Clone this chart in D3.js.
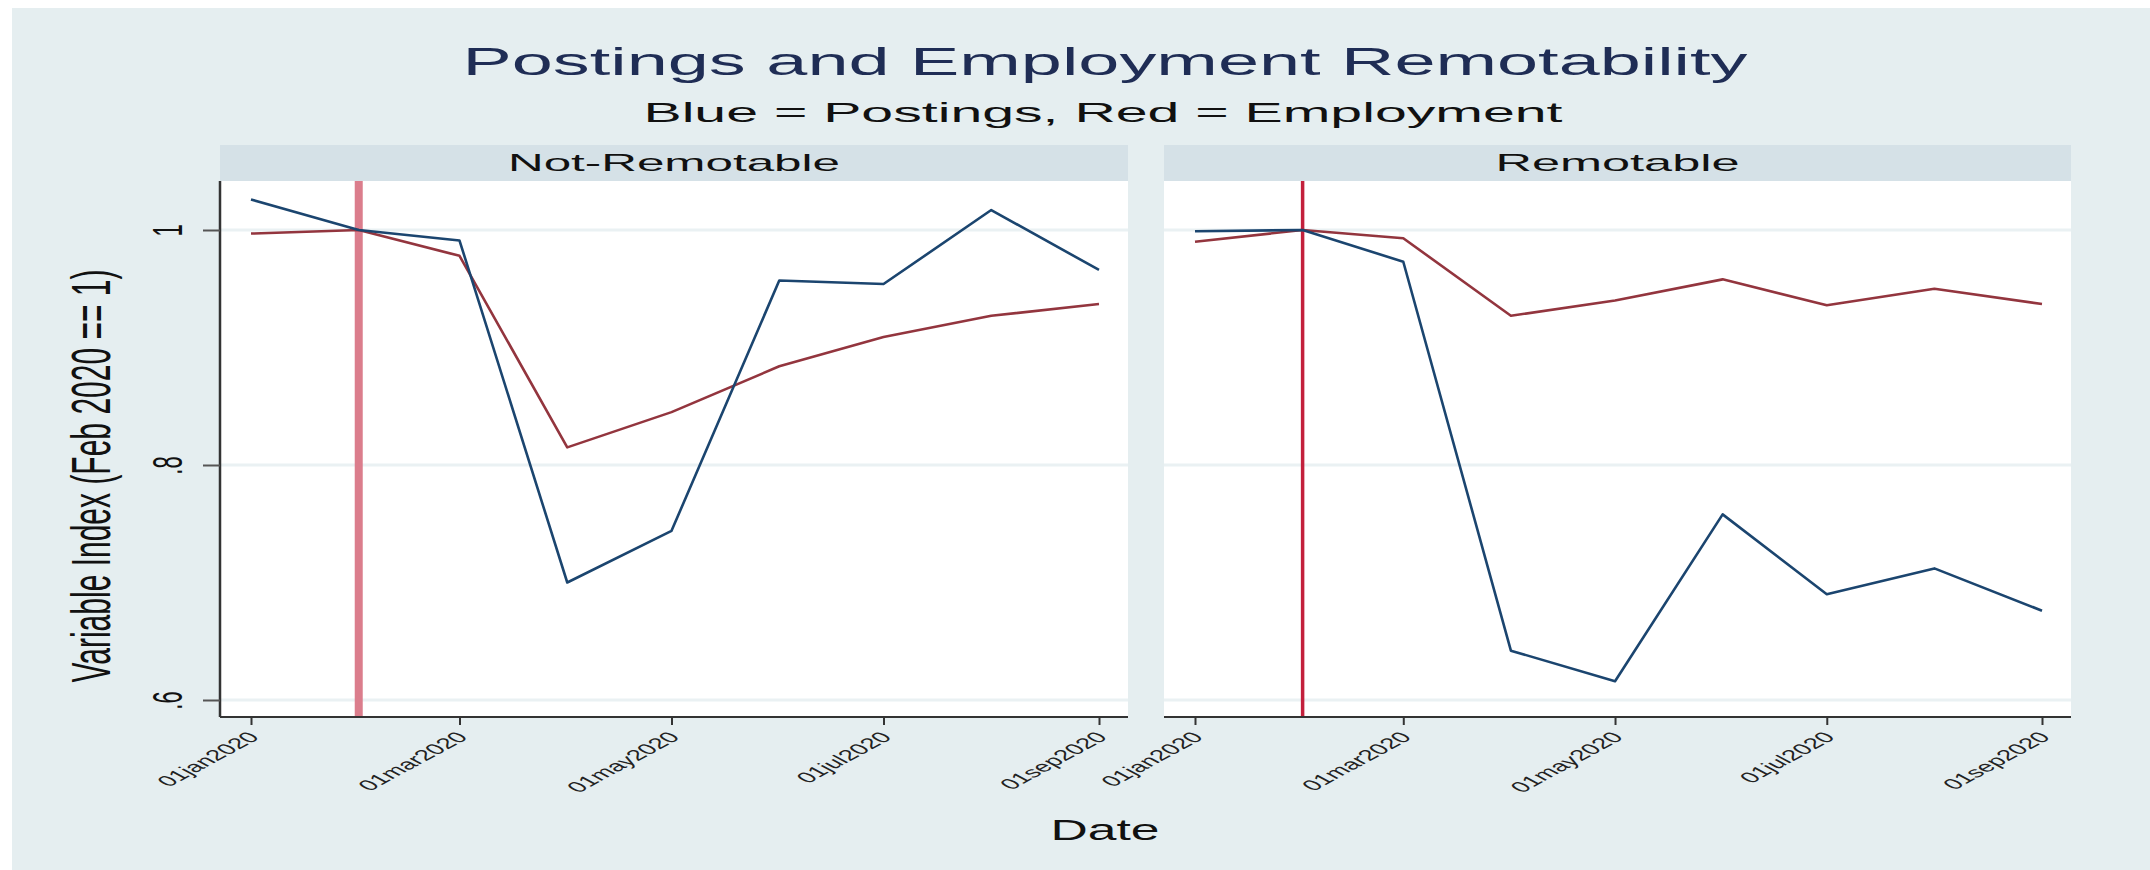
<!DOCTYPE html>
<html>
<head>
<meta charset="utf-8">
<script src="https://cdn.jsdelivr.net/npm/d3@7"></script>
<style>
  html, body { margin: 0; padding: 0; background: #ffffff; }
  svg { display: block; }
  text { font-family: "Liberation Sans", Arial, Helvetica, sans-serif; }
</style>
</head>
<body>
<svg id="chart" width="2150" height="870"></svg>
<script>
// ---------------- DATA ----------------
const months = ["2020-01-01","2020-02-01","2020-03-01","2020-04-01","2020-05-01","2020-06-01","2020-07-01","2020-08-01","2020-09-01"];
const panelNames = ["Not-Remotable", "Remotable"];
const postingsNotRemotable   = [1.026, 1.000, 0.991, 0.700, 0.744, 0.957, 0.954, 1.017, 0.966];
const employmentNotRemotable = [0.997, 1.000, 0.978, 0.815, 0.845, 0.884, 0.909, 0.927, 0.937];
const postingsRemotable      = [0.999, 1.000, 0.973, 0.642, 0.616, 0.758, 0.690, 0.712, 0.676];
const employmentRemotable    = [0.990, 1.000, 0.993, 0.927, 0.940, 0.958, 0.936, 0.950, 0.937];
const xTickDates  = ["2020-01-01","2020-03-01","2020-05-01","2020-07-01","2020-09-01"];
const xTickLabels = ["01jan2020","01mar2020","01may2020","01jul2020","01sep2020"];
const yTicks      = [0.6, 0.8, 1];
const yTickLabels = [".6", ".8", "1"];
const eventDate   = "2020-02-01";
const titleText    = "Postings and Employment Remotability";
const subtitleText = "Blue = Postings, Red = Employment";
const yAxisTitle   = "Variable Index (Feb 2020 == 1)";
const xAxisTitle   = "Date";

// ---------------- LAYOUT ----------------
const parse = d3.timeParse("%Y-%m-%d");
const svg = d3.select("#chart");
const W = 2150, H = 870;
const plotTop = 181, plotBottom = 717, headerTop = 145;
const panelX = [[220, 1128], [1164, 2071]];
const seriesByPanel = [
  { postings: postingsNotRemotable, employment: employmentNotRemotable, vColor: "#db7d8c", vWidth: 8 },
  { postings: postingsRemotable,    employment: employmentRemotable,    vColor: "#c3203c", vWidth: 3.5 }
];
const blue = "#1b456f", red = "#93353e";

svg.append("rect").attr("x", 0).attr("y", 0).attr("width", W).attr("height", H).attr("fill", "#ffffff");
svg.append("rect").attr("x", 12).attr("y", 8).attr("width", W - 12).attr("height", H - 8).attr("fill", "#e5eef0");

// titles
svg.append("text").attr("x", 1105).attr("y", 75).attr("text-anchor", "middle")
  .attr("font-size", 38).attr("fill", "#1f2d55")
  .attr("textLength", 1285).attr("lengthAdjust", "spacingAndGlyphs").text(titleText);
svg.append("text").attr("x", 1103).attr("y", 122).attr("text-anchor", "middle")
  .attr("font-size", 28).attr("fill", "#111111")
  .attr("textLength", 919).attr("lengthAdjust", "spacingAndGlyphs").text(subtitleText);

const y = d3.scaleLinear().domain([0.6, 1]).range([700, 230]);
const dates = months.map(parse);
const headerLens = [332, 244];

panelNames.forEach((name, i) => {
  const [x0, x1] = panelX[i];
  const g = svg.append("g");
  const x = d3.scaleTime().domain([parse(months[0]), parse(months[months.length - 1])]).range([x0 + 31, x1 - 29]);

  // header
  g.append("rect").attr("x", x0).attr("y", headerTop).attr("width", x1 - x0).attr("height", plotTop - headerTop).attr("fill", "#d5e1e7");
  g.append("text").attr("x", (x0 + x1) / 2).attr("y", 171).attr("text-anchor", "middle")
    .attr("font-size", 24).attr("fill", "#111")
    .attr("textLength", headerLens[i]).attr("lengthAdjust", "spacingAndGlyphs").text(name);

  // plot area
  g.append("rect").attr("x", x0).attr("y", plotTop).attr("width", x1 - x0).attr("height", plotBottom - plotTop).attr("fill", "#ffffff");

  // grid
  g.selectAll(".grid").data(yTicks).enter().append("line")
    .attr("x1", x0).attr("x2", x1).attr("y1", d => y(d)).attr("y2", d => y(d))
    .attr("stroke", "#eaf1f3").attr("stroke-width", 3);

  // event line
  g.append("line").attr("x1", x(parse(eventDate))).attr("x2", x(parse(eventDate)))
    .attr("y1", plotTop).attr("y2", plotBottom)
    .attr("stroke", seriesByPanel[i].vColor).attr("stroke-width", seriesByPanel[i].vWidth);

  // series lines
  const line = d3.line().x((d, k) => x(dates[k])).y(d => y(d));
  g.append("path").datum(seriesByPanel[i].employment).attr("d", line)
    .attr("fill", "none").attr("stroke", red).attr("stroke-width", 2.6).attr("stroke-linejoin", "round");
  g.append("path").datum(seriesByPanel[i].postings).attr("d", line)
    .attr("fill", "none").attr("stroke", blue).attr("stroke-width", 2.6).attr("stroke-linejoin", "round");

  // x axis
  const xAxis = d3.axisBottom(x).tickValues(xTickDates.map(parse))
    .tickFormat((d, k) => xTickLabels[k]).tickSize(8).tickSizeOuter(0);
  const ax = g.append("g").attr("transform", `translate(0,${plotBottom})`).call(xAxis);
  ax.select(".domain").attr("d", `M${x0},0H${x1}`).attr("stroke", "#333").attr("stroke-width", 2);
  ax.selectAll(".tick line").attr("stroke", "#333").attr("stroke-width", 2);
  ax.selectAll(".tick text")
    .attr("font-size", 15).attr("fill", "#222").attr("text-anchor", "end")
    .attr("x", null).attr("y", null).attr("dy", null)
    .attr("transform", "translate(9,21) scale(1.85,1) rotate(-45)");

  // y axis only in first panel
  if (i === 0) {
    const yAxis = d3.axisLeft(y).tickValues(yTicks).tickFormat((d, k) => yTickLabels[k]).tickSize(17).tickSizeOuter(0);
    const ay = g.append("g").attr("transform", `translate(${x0},0)`).call(yAxis);
    ay.select(".domain").attr("d", `M0,${plotTop}V${plotBottom}`).attr("stroke", "#333").attr("stroke-width", 2.5);
    ay.selectAll(".tick line").attr("stroke", "#555").attr("stroke-width", 2);
    ay.selectAll(".tick text")
      .attr("font-size", 22).attr("fill", "#111").attr("text-anchor", "middle")
      .attr("x", null).attr("dy", null).attr("y", null)
      .attr("transform", "translate(-38,0) scale(1.9,1) rotate(-90)");
  }
});

// axis titles
svg.append("text").attr("text-anchor", "middle").attr("font-size", 30).attr("fill", "#111")
  .attr("transform", "translate(110,476) scale(1.87,1) rotate(-90)")
  .attr("textLength", 413).attr("lengthAdjust", "spacingAndGlyphs").text(yAxisTitle);
svg.append("text").attr("x", 1105).attr("y", 840).attr("text-anchor", "middle")
  .attr("font-size", 29).attr("fill", "#111")
  .attr("textLength", 109).attr("lengthAdjust", "spacingAndGlyphs").text(xAxisTitle);
</script>
</body>
</html>
